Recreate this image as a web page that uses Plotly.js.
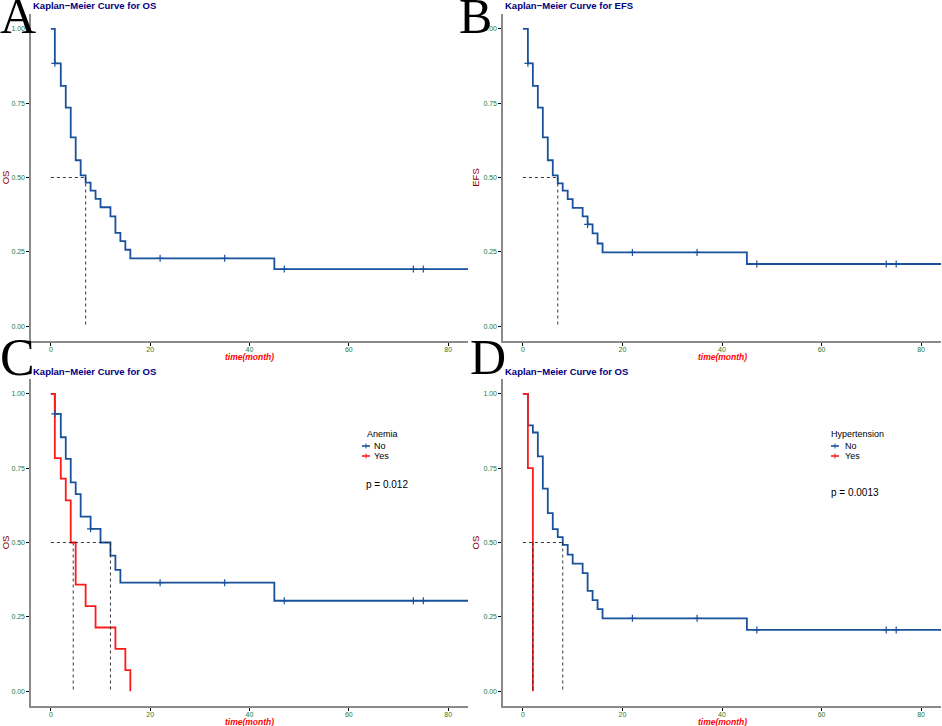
<!DOCTYPE html>
<html>
<head>
<meta charset="utf-8">
<script src="https://cdn.plot.ly/plotly-3.0.1.min.js"></script>
<style>
html,body{margin:0;padding:0;background:#fff;}
#chart{width:942px;height:726px;}
</style>
</head>
<body>
<div id="chart"></div>
<script>
// ---------------- DATA ----------------
// Panel A: overall OS
const timeA = [0, 0.8, 2, 3, 4, 5, 6, 7, 8, 9, 10, 12, 13, 14, 15, 16, 45, 85];
const survA = [1, 0.884, 0.808, 0.735, 0.635, 0.558, 0.507, 0.483, 0.456, 0.428, 0.400, 0.369, 0.314, 0.286, 0.257, 0.228, 0.192, 0.192];
const censorTimeA = [0.8, 22, 35, 47, 73, 75];
const censorSurvA = [0.884, 0.228, 0.228, 0.192, 0.192, 0.192];
const medianA = [7];

// Panel B: overall EFS
const timeB = [0, 1, 2, 3, 4, 5, 6, 7, 8, 9, 10, 12, 13, 14, 15, 16, 45, 85];
const survB = [1, 0.884, 0.808, 0.735, 0.635, 0.558, 0.507, 0.480, 0.456, 0.427, 0.398, 0.369, 0.342, 0.312, 0.278, 0.248, 0.209, 0.209];
const censorTimeB = [1, 13, 22, 35, 47, 73, 75];
const censorSurvB = [0.884, 0.342, 0.248, 0.248, 0.209, 0.209, 0.209];
const medianB = [7];

// Panel C: OS by Anemia
const timeC_No = [0, 0.8, 2, 3, 4, 5, 6, 8, 10, 12, 13, 14, 45, 85];
const survC_No = [1, 0.933, 0.854, 0.781, 0.702, 0.663, 0.587, 0.546, 0.500, 0.456, 0.408, 0.365, 0.304, 0.304];
const censorTimeC_No = [0.8, 8, 22, 35, 47, 73, 75];
const censorSurvC_No = [0.933, 0.546, 0.365, 0.365, 0.304, 0.304, 0.304];
const timeC_Yes = [0, 0.8, 2, 3, 4, 5, 7, 9, 13, 15, 16];
const survC_Yes = [1, 0.784, 0.715, 0.642, 0.500, 0.358, 0.286, 0.214, 0.142, 0.071, 0];
const medianC = [4.5, 12];
const pC = "p = 0.012";

// Panel D: OS by Hypertension
const timeD_No = [0, 1, 2, 3, 4, 5, 6, 7, 8, 9, 10, 12, 13, 14, 15, 16, 45, 85];
const survD_No = [1, 0.894, 0.870, 0.790, 0.681, 0.599, 0.545, 0.518, 0.492, 0.459, 0.429, 0.397, 0.337, 0.306, 0.276, 0.245, 0.206, 0.206];
const censorTimeD_No = [22, 35, 47, 73, 75];
const censorSurvD_No = [0.245, 0.245, 0.206, 0.206, 0.206];
const timeD_Yes = [0, 1, 2];
const survD_Yes = [1, 0.75, 0];
const medianD = [2, 8];
const pD = "p = 0.0013";

const xTicks = [0, 20, 40, 60, 80];
const yTicks = [0, 0.25, 0.5, 0.75, 1];
const yTickText = ["0.00", "0.25", "0.50", "0.75", "1.00"];
const groupLabels = ["No", "Yes"];

// ---------------- STYLE ----------------
const W = 942, H = 726;
const px = v => v / W;
const py = v => 1 - v / H;
const BLUE = "#1a519c";
const RED = "#ff1a1a";
const TICKCOL = "#2c7a2c";
const SANS = "Liberation Sans, Arial, sans-serif";
const SERIF = "Liberation Serif, Times New Roman, serif";

const colDom = [[px(31), px(468)], [px(503), px(941)]];
const rowDom = [[py(341), py(14)], [py(706), py(379)]];

function stepTrace(t, s, color, ax) {
  return {x: t, y: s, type: "scatter", mode: "lines", line: {shape: "hv", color: color, width: 1.8},
          xaxis: ax[0], yaxis: ax[1], showlegend: false, hoverinfo: "skip", cliponaxis: true};
}
function censorTrace(t, s, color, ax) {
  return {x: t, y: s, type: "scatter", mode: "markers",
          marker: {symbol: "cross-thin-open", size: 5, color: color, line: {color: color, width: 1.2}},
          xaxis: ax[0], yaxis: ax[1], showlegend: false, hoverinfo: "skip"};
}
function medianTraces(meds, ax) {
  const out = [];
  const mx = Math.max(...meds);
  out.push({x: [0, mx], y: [0.5, 0.5], type: "scatter", mode: "lines",
            line: {color: "#222", width: 0.9, dash: "3px,3px"}, xaxis: ax[0], yaxis: ax[1], showlegend: false, hoverinfo: "skip"});
  meds.forEach(m => out.push({x: [m, m], y: [0.5, 0], type: "scatter", mode: "lines",
            line: {color: "#222", width: 0.9, dash: "3px,3px"}, xaxis: ax[0], yaxis: ax[1], showlegend: false, hoverinfo: "skip"}));
  return out;
}

const axA = ["x", "y"], axB = ["x2", "y2"], axC = ["x3", "y3"], axD = ["x4", "y4"];
const data = [
  stepTrace(timeA, survA, BLUE, axA), censorTrace(censorTimeA, censorSurvA, BLUE, axA),
  ...medianTraces(medianA, axA),
  stepTrace(timeB, survB, BLUE, axB), censorTrace(censorTimeB, censorSurvB, BLUE, axB),
  ...medianTraces(medianB, axB),
  stepTrace(timeC_No, survC_No, BLUE, axC), stepTrace(timeC_Yes, survC_Yes, RED, axC),
  censorTrace(censorTimeC_No, censorSurvC_No, BLUE, axC),
  ...medianTraces(medianC, axC),
  stepTrace(timeD_No, survD_No, BLUE, axD), stepTrace(timeD_Yes, survD_Yes, RED, axD),
  censorTrace(censorTimeD_No, censorSurvD_No, BLUE, axD),
  ...medianTraces(medianD, axD)
];

function xAxis(dom, anchor) {
  return {domain: dom, anchor: anchor, range: [-4, 84], tickvals: xTicks, ticktext: xTicks.map(String),
          ticks: "outside", ticklen: 3, tickwidth: 1, tickcolor: "#000", showgrid: false, zeroline: false,
          showline: true, linecolor: "#8a8a8a", linewidth: 1.6, ticklabelstandoff: -2,
          tickfont: {family: SANS, size: 7, color: TICKCOL}};
}
function yAxis(dom, anchor, label) {
  return {domain: dom, anchor: anchor, range: [-0.05, 1.05], tickvals: yTicks, ticktext: yTickText,
          ticks: "outside", ticklen: 3, tickwidth: 1, tickcolor: "#000", showgrid: false, zeroline: false,
          showline: true, linecolor: "#8a8a8a", linewidth: 1.6,
          tickfont: {family: SANS, size: 7, color: TICKCOL},
          title: {text: label, font: {family: SANS, size: 9.5, color: "#8b0000"}, standoff: 2}};
}

const titleFont = {family: SANS, size: 9.5, color: "#000080"};
const xTitleFont = {family: SANS, size: 8.5, color: "#ff0000"};
function xTitle(xref, yc) {
  return {text: "<b><i>time(month)</i></b>", xref: xref, x: 0.5, yref: "paper", y: py(yc),
          xanchor: "center", yanchor: "middle", showarrow: false, font: xTitleFont};
}
const annotations = [
  {text: "<b>Kaplan\u2212Meier Curve for OS</b>", x: px(31), y: py(6), xref: "paper", yref: "paper", xanchor: "left", yanchor: "middle", showarrow: false, font: titleFont},
  {text: "<b>Kaplan\u2212Meier Curve for EFS</b>", x: px(503), y: py(6), xref: "paper", yref: "paper", xanchor: "left", yanchor: "middle", showarrow: false, font: titleFont},
  {text: "<b>Kaplan\u2212Meier Curve for OS</b>", x: px(31), y: py(371), xref: "paper", yref: "paper", xanchor: "left", yanchor: "middle", showarrow: false, font: titleFont},
  {text: "<b>Kaplan\u2212Meier Curve for OS</b>", x: px(503), y: py(371), xref: "paper", yref: "paper", xanchor: "left", yanchor: "middle", showarrow: false, font: titleFont},
  xTitle("x domain", 357), xTitle("x2 domain", 357), xTitle("x3 domain", 721.5), xTitle("x4 domain", 721.5),
  // panel letters
  {text: "A", x: px(-2), y: py(16), xref: "paper", yref: "paper", xanchor: "left", yanchor: "middle", showarrow: false, font: {family: SERIF, size: 50, color: "#000"}},
  {text: "B", x: px(457), y: py(16), xref: "paper", yref: "paper", xanchor: "left", yanchor: "middle", showarrow: false, font: {family: SERIF, size: 50, color: "#000"}},
  {text: "C", x: px(-2), y: py(357), xref: "paper", yref: "paper", xanchor: "left", yanchor: "middle", showarrow: false, font: {family: SERIF, size: 52, color: "#000"}},
  {text: "D", x: px(468), y: py(357), xref: "paper", yref: "paper", xanchor: "left", yanchor: "middle", showarrow: false, font: {family: SERIF, size: 50, color: "#000"}},
  // legends
  {text: "Anemia", x: px(365), y: py(434), xref: "paper", yref: "paper", xanchor: "left", yanchor: "middle", showarrow: false, font: {family: SANS, size: 9, color: "#000"}},
  {text: groupLabels[0], x: px(372), y: py(446), xref: "paper", yref: "paper", xanchor: "left", yanchor: "middle", showarrow: false, font: {family: SANS, size: 9, color: "#000"}},
  {text: groupLabels[1], x: px(372), y: py(456), xref: "paper", yref: "paper", xanchor: "left", yanchor: "middle", showarrow: false, font: {family: SANS, size: 9, color: "#000"}},
  {text: pC, x: px(364), y: py(484), xref: "paper", yref: "paper", xanchor: "left", yanchor: "middle", showarrow: false, font: {family: SANS, size: 10, color: "#000"}},
  {text: "Hypertension", x: px(829), y: py(434), xref: "paper", yref: "paper", xanchor: "left", yanchor: "middle", showarrow: false, font: {family: SANS, size: 9, color: "#000"}},
  {text: groupLabels[0], x: px(843), y: py(446), xref: "paper", yref: "paper", xanchor: "left", yanchor: "middle", showarrow: false, font: {family: SANS, size: 9, color: "#000"}},
  {text: groupLabels[1], x: px(843), y: py(456), xref: "paper", yref: "paper", xanchor: "left", yanchor: "middle", showarrow: false, font: {family: SANS, size: 9, color: "#000"}},
  {text: pD, x: px(829), y: py(492), xref: "paper", yref: "paper", xanchor: "left", yanchor: "middle", showarrow: false, font: {family: SANS, size: 10, color: "#000"}}
];

function keyShapes(x0, x1, yc, color) {
  const xm = (x0 + x1) / 2;
  return [
    {type: "line", xref: "paper", yref: "paper", x0: px(x0), x1: px(x1), y0: py(yc), y1: py(yc), line: {color: color, width: 1.6}},
    {type: "line", xref: "paper", yref: "paper", x0: px(xm), x1: px(xm), y0: py(yc - 2.5), y1: py(yc + 2.5), line: {color: color, width: 1}}
  ];
}
const shapes = [
  ...keyShapes(362, 370, 446, BLUE), ...keyShapes(362, 370, 456, RED),
  ...keyShapes(831, 839, 446, BLUE), ...keyShapes(831, 839, 456, RED)
];

const layout = {
  width: W, height: H, margin: {l: 0, r: 0, t: 0, b: 0},
  paper_bgcolor: "#fff", plot_bgcolor: "#fff", showlegend: false,
  xaxis: xAxis(colDom[0], "y"), yaxis: yAxis(rowDom[0], "x", "OS"),
  xaxis2: xAxis(colDom[1], "y2"), yaxis2: yAxis(rowDom[0], "x2", "EFS"),
  xaxis3: xAxis(colDom[0], "y3"), yaxis3: yAxis(rowDom[1], "x3", "OS"),
  xaxis4: xAxis(colDom[1], "y4"), yaxis4: yAxis(rowDom[1], "x4", "OS"),
  annotations: annotations, shapes: shapes
};

Plotly.newPlot("chart", data, layout, {displayModeBar: false, staticPlot: true});
</script>
</body>
</html>
